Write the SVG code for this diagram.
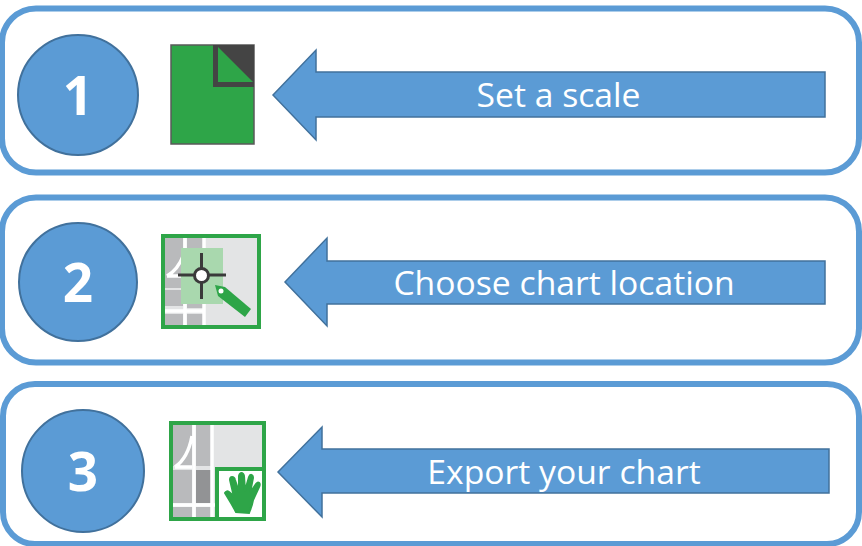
<svg xmlns="http://www.w3.org/2000/svg" width="862" height="546" viewBox="0 0 862 546">
<style>
.panel{fill:#fff;stroke:#5b9bd5;stroke-width:6}
.circ{fill:#5b9bd5;stroke:#41719c;stroke-width:2}
.arrow{fill:#5b9bd5;stroke:#41719c;stroke-width:1.5}
.num{font-family:"Open Sans","Noto Sans",sans-serif;font-weight:700;font-size:53px;fill:#fff;text-anchor:middle}
.lbl{font-family:"Open Sans","Noto Sans",sans-serif;font-size:33.7px;fill:#fff;text-anchor:middle}
.road{fill:#b9babc}
.w{fill:none;stroke:#fff;stroke-width:3.5}
.g{fill:#2ea548}
.k{stroke:#3a3a3a;stroke-width:3;fill:none}
</style>
<rect width="862" height="546" fill="#fff"/>
<g id="panels">
<rect class="panel" x="2" y="8.500" width="857" height="164" rx="34"/>
<rect class="panel" x="2" y="197.500" width="857" height="165" rx="34"/>
<rect class="panel" x="3" y="384" width="856" height="160" rx="32"/>
</g>
<g id="connectors">
<path class="arrow" d="M273 95L316 50V72H825V117H316V140Z"/>
<path class="arrow" d="M285 282L327 238V261H825V304H327V326Z"/>
<path class="arrow" d="M278 472L322 427V449H829V493H322V517Z"/>
</g>
<g id="step1">
<circle class="circ" cx="78" cy="95" r="60"/>
<text class="num" x="78" y="115">1</text>
<rect x="171" y="45" width="83" height="99" fill="#2ea548" stroke="#5a5a5a" stroke-width="1.500"/>
<path d="M213 45H254V87H213Z" fill="#444"/>
<path d="M218 47V82H253Z" fill="#2ea548"/>
<text class="lbl" x="558.500" y="107">Set a scale</text>
</g>
<g id="step2">
<circle class="circ" cx="78" cy="282" r="59"/>
<text class="num" x="78" y="302">2</text>
<rect x="163" y="236" width="96" height="91" fill="#e3e4e5" stroke="#2ea548" stroke-width="4"/>
<rect x="165" y="238" width="18" height="50" class="road"/>
<rect x="187" y="238" width="16" height="70" class="road"/>
<rect x="165" y="290" width="18" height="16" class="road"/>
<rect x="165" y="314" width="18" height="11" class="road"/>
<rect x="187" y="314" width="16" height="11" class="road"/>
<path class="w" d="M185 238V325M204 238V325M165 311H205M167 276H184M167 276Q178 270 184 254"/>
<rect x="181" y="248" width="42" height="56" fill="#a9d8ae"/>
<path class="k" d="M201.500 253V299M178 275H226"/>
<circle cx="201.500" cy="275.500" r="7" fill="#fff" stroke="#3a3a3a" stroke-width="3"/>
<path d="M215 285L225 287L251 309L245 317L218 296Z" class="g"/>
<circle cx="221" cy="291" r="2.500" fill="#fff"/>
<text class="lbl" x="564" y="295">Choose chart location</text>
</g>
<g id="step3">
<circle class="circ" cx="83" cy="471" r="61"/>
<text class="num" x="83" y="491">3</text>
<rect x="171" y="423" width="93" height="96" fill="#e3e4e5" stroke="#2ea548" stroke-width="4"/>
<rect x="173" y="425" width="19" height="41" class="road"/>
<rect x="196" y="425" width="15" height="41" class="road"/>
<rect x="173" y="470" width="19" height="33" class="road"/>
<rect x="196" y="470" width="15" height="33" fill="#929395"/>
<rect x="173" y="507" width="19" height="10" class="road"/>
<rect x="196" y="507" width="15" height="10" class="road"/>
<path class="w" d="M194 425V517M212 425V517M173 505H216M175 467H192M175 467Q188 458 192 436"/>
<rect x="217" y="469" width="47" height="50" fill="#fff" stroke="#2ea548" stroke-width="4"/>
<path class="g" stroke="#2ea548" stroke-width="2" d="M236 512C232 504 228 498 225 493C227 489 231 493 234 497L230 480C230 476 234 476 235 480L239 492L239 476C240 472 243 472 244 476L245 491L249 477C250 474 253 474 253 478L250 493L256 484C258 481 261 483 259 487L253 500C252 506 250 510 249 513Z"/>
<text class="lbl" x="564" y="484">Export your chart</text>
</g>
</svg>
